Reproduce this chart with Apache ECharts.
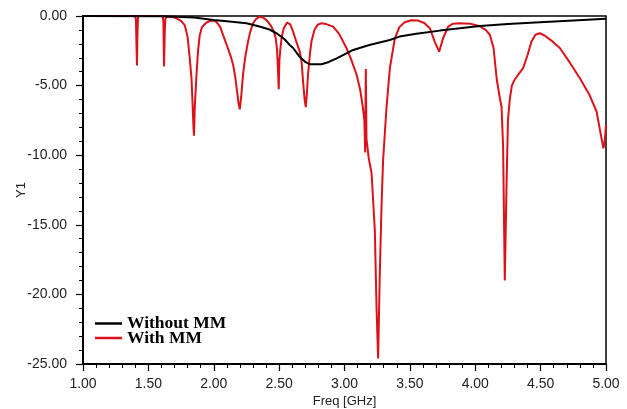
<!DOCTYPE html>
<html>
<head>
<meta charset="utf-8">
<script src="https://cdn.jsdelivr.net/npm/echarts@6/dist/echarts.min.js"></script>
<style>
  html, body { margin: 0; padding: 0; background: #fff; }
  #chart { width: 627px; height: 409px; }
</style>
</head>
<body>
<div id="chart"></div>
<script>
// 读图得到的数据：[Freq GHz, Y1]
const SERIES_NAMES = ['Without MM', 'With MM']

const withoutMM = [
  [1.0, 0], [1.6, -0.02], [1.85, -0.1], [2.0, -0.29], [2.1, -0.38], [2.25, -0.52],
  [2.35, -0.75], [2.42, -0.95], [2.48, -1.24], [2.54, -1.65], [2.58, -2.08], [2.607, -2.3],
  [2.65, -2.85], [2.70, -3.3], [2.735, -3.47], [2.824, -3.47], [2.88, -3.3], [2.94, -3.04],
  [3.0, -2.75], [3.066, -2.44], [3.19, -2.08], [3.347, -1.72], [3.42, -1.48], [3.55, -1.28],
  [3.729, -1.05], [3.9, -0.86], [4.035, -0.72], [4.25, -0.58], [4.494, -0.45], [4.75, -0.32],
  [5.0, -0.2],
]

const withMM = [
  [1.00, 0], [1.40, 0], [1.405, -0.3], [1.41, -2.5], [1.413, -3.56], [1.416, -1.5], [1.42, -0.2], [1.425, 0],
  [1.61, 0], [1.615, -0.5], [1.62, -3.63], [1.625, -1.2], [1.63, -0.2], [1.64, -0.05],
  [1.68, -0.05], [1.715, -0.17], [1.75, -0.35], [1.778, -0.65], [1.80, -1.5], [1.816, -3.0],
  [1.83, -4.5], [1.837, -6.1], [1.845, -8.0], [1.849, -8.6], [1.855, -6.5], [1.868, -4.2],
  [1.88, -2.5], [1.893, -1.36], [1.91, -0.8], [1.94, -0.5], [1.97, -0.36], [1.995, -0.33],
  [2.02, -0.42], [2.05, -0.8], [2.071, -1.36], [2.10, -2.1], [2.13, -2.9], [2.148, -3.5],
  [2.165, -4.4], [2.178, -5.4], [2.19, -6.3], [2.199, -6.7], [2.21, -5.8], [2.224, -4.2],
  [2.24, -3.0], [2.262, -1.84], [2.28, -1.1], [2.301, -0.52], [2.325, -0.2], [2.352, -0.05],
  [2.38, -0.12], [2.41, -0.35], [2.441, -0.76], [2.46, -1.15], [2.474, -1.6], [2.484, -2.4],
  [2.49, -3.6], [2.497, -5.26], [2.502, -3.2], [2.51, -2.3], [2.52, -1.5], [2.535, -0.9],
  [2.561, -0.47], [2.585, -0.6], [2.607, -1.12], [2.63, -1.8], [2.658, -2.56], [2.673, -3.4],
  [2.683, -4.7], [2.695, -6.0], [2.704, -6.55], [2.712, -5.6], [2.721, -4.2], [2.735, -2.8],
  [2.747, -1.84], [2.77, -1.0], [2.795, -0.62], [2.824, -0.52], [2.86, -0.58], [2.913, -0.76],
  [2.96, -1.3], [3.015, -2.3], [3.05, -3.1], [3.092, -4.2], [3.12, -5.3], [3.141, -6.6],
  [3.152, -7.5], [3.158, -9.8], [3.163, -3.8], [3.168, -8.8], [3.185, -10.2], [3.207, -11.3],
  [3.232, -15.4], [3.245, -20.9], [3.257, -24.6], [3.270, -18.5], [3.283, -13.7], [3.295, -10.4],
  [3.321, -6.6], [3.347, -3.75], [3.385, -1.6], [3.42, -0.8], [3.46, -0.45], [3.51, -0.3],
  [3.563, -0.33], [3.61, -0.5], [3.653, -0.88], [3.69, -1.84], [3.724, -2.56], [3.754, -1.6],
  [3.793, -0.76], [3.83, -0.55], [3.88, -0.52], [3.96, -0.55], [4.035, -0.74], [4.08, -1.0],
  [4.112, -1.36], [4.14, -2.3], [4.165, -4.6], [4.19, -6.0], [4.201, -6.5], [4.213, -9.4],
  [4.226, -19.0], [4.239, -12.3], [4.25, -7.5], [4.264, -6.0], [4.28, -5.0], [4.30, -4.6],
  [4.33, -4.2], [4.366, -3.75], [4.40, -2.8], [4.43, -1.84], [4.46, -1.35], [4.494, -1.24],
  [4.53, -1.4], [4.58, -1.75], [4.647, -2.3], [4.72, -3.3], [4.80, -4.47], [4.87, -5.6],
  [4.928, -6.86], [4.96, -8.5], [4.98, -9.5], [4.99, -9.0], [5.0, -7.8],
]

const X_MIN = 1, X_MAX = 5, X_STEP = 0.5
const Y_MIN = -25, Y_MAX = 0, Y_STEP = 5

const LABEL_FONT = '"Liberation Sans", Arial, sans-serif'
const LEGEND_FONT = '"Liberation Serif", "Times New Roman", serif'

const chart = echarts.init(document.getElementById('chart'), null, { renderer: 'canvas' })

chart.setOption({
  backgroundColor: '#fff',
  animation: false,
  grid: {
    left: 83, right: 21, top: 16, bottom: 45,
    containLabel: false, outerBoundsMode: 'none',
    show: true, borderColor: '#000', borderWidth: 1.5,
  },
  legend: {
    data: SERIES_NAMES,
    orient: 'vertical',
    left: 90, top: 309.5,
    icon: 'rect',
    itemWidth: 27, itemHeight: 2.5,
    itemGap: -3.5,
    textStyle: {
      fontFamily: LEGEND_FONT, fontWeight: 'bold', fontSize: 17.5,
      color: '#000',
    },
  },
  xAxis: {
    type: 'value',
    min: X_MIN, max: X_MAX, interval: X_STEP,
    name: 'Freq [GHz]',
    nameLocation: 'middle', nameGap: 31, nameMoveOverlap: false,
    nameTextStyle: { fontFamily: LABEL_FONT, fontSize: 13, color: '#222' },
    axisLine: { onZero: false, lineStyle: { color: '#000', width: 2 } },
    axisTick: { length: 7, lineStyle: { color: '#000', width: 1.2 } },
    minorTick: { show: true, splitNumber: 5, length: 4, lineStyle: { color: '#000', width: 1 } },
    axisLabel: {
      fontFamily: LABEL_FONT, fontSize: 14, color: '#222', margin: 13,
      formatter: v => v.toFixed(2),
    },
    splitLine: { show: false },
  },
  yAxis: {
    type: 'value',
    min: Y_MIN, max: Y_MAX, interval: Y_STEP,
    name: 'Y1',
    nameLocation: 'middle', nameGap: 55, nameMoveOverlap: false,
    nameTextStyle: { fontFamily: LABEL_FONT, fontSize: 13, color: '#222' },
    axisLine: { onZero: false, lineStyle: { color: '#000', width: 2 } },
    axisTick: { length: 7, lineStyle: { color: '#000', width: 1.2 } },
    minorTick: { show: true, splitNumber: 5, length: 4, lineStyle: { color: '#000', width: 1 } },
    axisLabel: {
      fontFamily: LABEL_FONT, fontSize: 14, color: '#222', margin: 16,
      formatter: v => v.toFixed(2),
    },
    splitLine: { show: false },
  },
  series: [
    {
      name: SERIES_NAMES[0], type: 'line', data: withoutMM,
      showSymbol: false, z: 3,
      itemStyle: { color: '#000' },
      lineStyle: { color: '#000', width: 2 },
    },
    {
      name: SERIES_NAMES[1], type: 'line', data: withMM,
      showSymbol: false, z: 2,
      itemStyle: { color: '#db1219' },
      lineStyle: { color: '#db1219', width: 2 },
    },
  ],
})
</script>
</body>
</html>
